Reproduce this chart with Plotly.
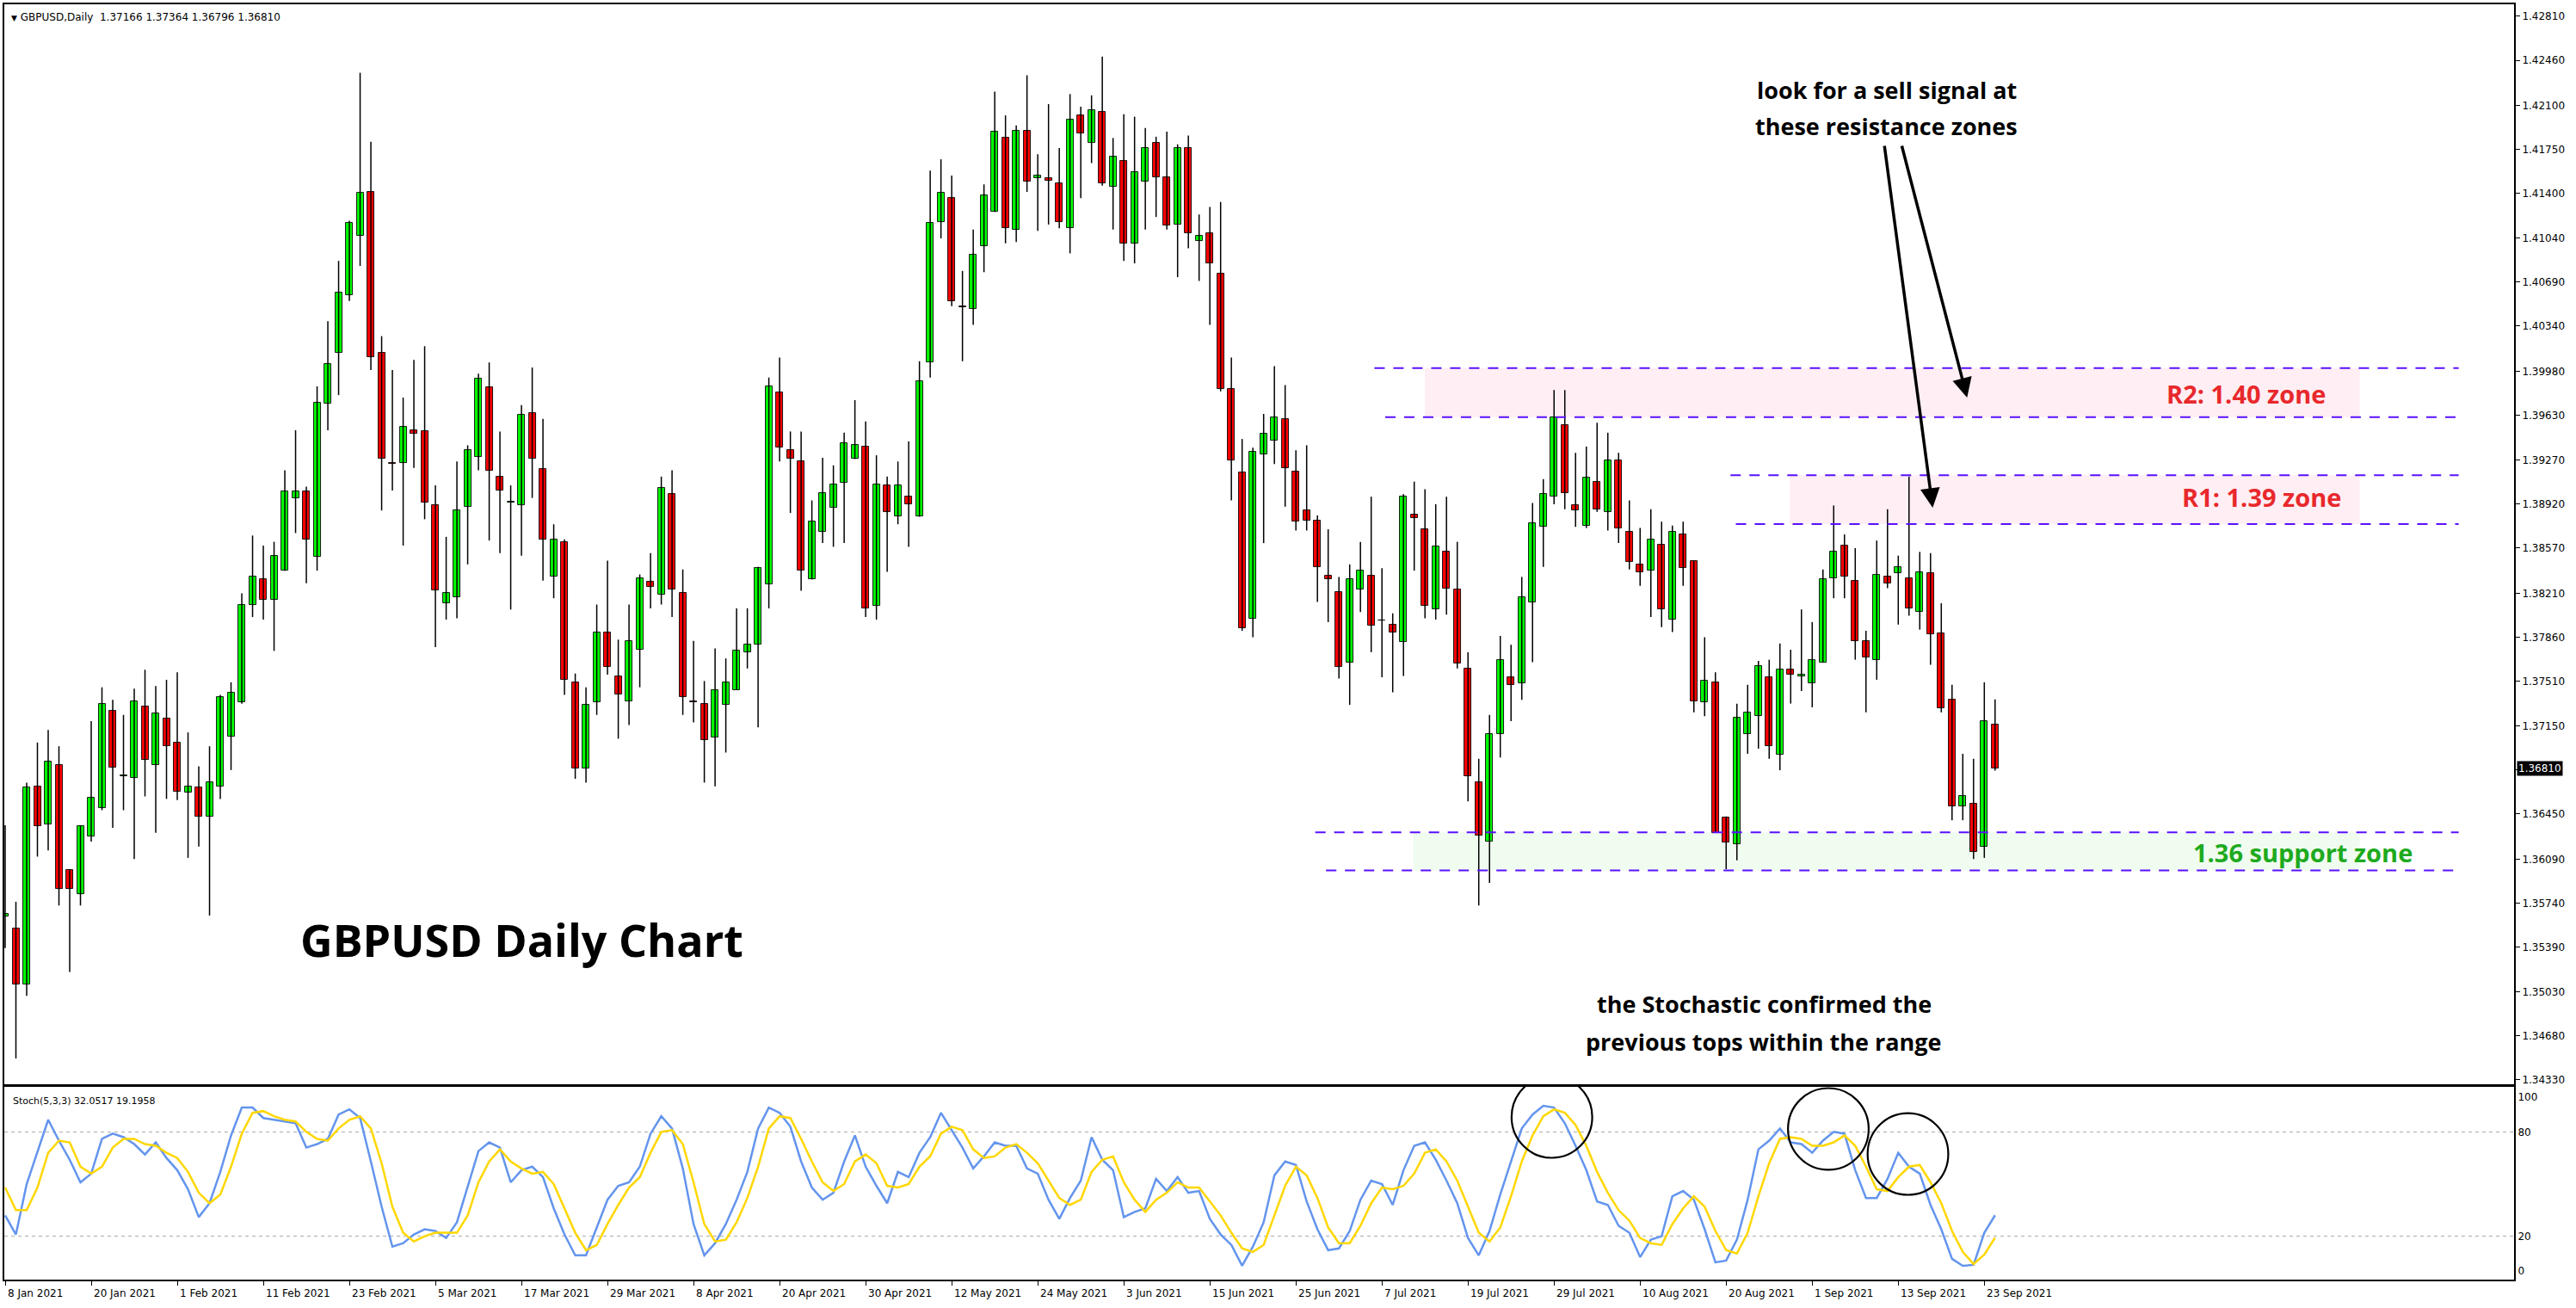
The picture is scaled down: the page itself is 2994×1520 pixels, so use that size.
import plotly.graph_objects as go

# ---------------- data ----------------
date_labels = ["8 Jan 2021", "20 Jan 2021", "1 Feb 2021", "11 Feb 2021", "23 Feb 2021",
               "5 Mar 2021", "17 Mar 2021", "29 Mar 2021", "8 Apr 2021", "20 Apr 2021",
               "30 Apr 2021", "12 May 2021", "24 May 2021", "3 Jun 2021", "15 Jun 2021",
               "25 Jun 2021", "7 Jul 2021", "19 Jul 2021", "29 Jul 2021", "10 Aug 2021",
               "20 Aug 2021", "1 Sep 2021", "13 Sep 2021", "23 Sep 2021"]
date_label_bars = [0, 8, 16, 24, 32, 40, 48, 56, 64, 72, 80, 88, 96, 104, 112, 120,
                   128, 136, 144, 152, 160, 168, 176, 184]

price_labels = ["1.42810", "1.42460", "1.42100", "1.41750", "1.41400", "1.41040", "1.40690",
                "1.40340", "1.39980", "1.39630", "1.39270", "1.38920", "1.38570", "1.38210",
                "1.37860", "1.37510", "1.37150", "1.36800", "1.36450", "1.36090", "1.35740",
                "1.35390", "1.35030", "1.34680", "1.34330"]
stoch_labels = ["0", "20", "80", "100"]

opens = [1.3563, 1.3554, 1.3509, 1.3667, 1.3637, 1.3684, 1.3600, 1.3581, 1.3627, 1.3650,
         1.3727, 1.3675, 1.3674, 1.3731, 1.3684, 1.3721, 1.3702, 1.3662, 1.3666, 1.3643,
         1.3667, 1.3707, 1.3734, 1.3812, 1.3832, 1.3816, 1.3839, 1.3897, 1.3902, 1.3850,
         1.3972, 1.4013, 1.4059, 1.4106, 1.4141, 1.4013, 1.3925, 1.3925, 1.3951, 1.3950,
         1.3891, 1.3813, 1.3818, 1.3890, 1.3930, 1.3985, 1.3914, 1.3893, 1.3891, 1.3965,
         1.3920, 1.3834, 1.3862, 1.3750, 1.3681, 1.3734, 1.3790, 1.3755, 1.3735, 1.3776,
         1.3830, 1.3820, 1.3900, 1.3821, 1.3735, 1.3733, 1.3706, 1.3732, 1.3744, 1.3774,
         1.3780, 1.3828, 1.3981, 1.3935, 1.3926, 1.3832, 1.3870, 1.3889, 1.3909, 1.3928,
         1.3938, 1.3811, 1.3907, 1.3882, 1.3898, 1.3882, 1.4005, 1.4117, 1.4136, 1.4050,
         1.4048, 1.4098, 1.4125, 1.4184, 1.4111, 1.4190, 1.4152, 1.4152, 1.4148, 1.4112,
         1.4202, 1.4180, 1.4205, 1.4145, 1.4166, 1.4100, 1.4149, 1.4180, 1.4153, 1.4115,
         1.4176, 1.4102, 1.4108, 1.4076, 1.3984, 1.3917, 1.3801, 1.3932, 1.3943, 1.3960,
         1.3918, 1.3887, 1.3879, 1.3835, 1.3822, 1.3766, 1.3824, 1.3835, 1.3799, 1.3796,
         1.3782, 1.3884, 1.3872, 1.3808, 1.3854, 1.3824, 1.3761, 1.3670, 1.3623, 1.3709,
         1.3754, 1.3749, 1.3814, 1.3874, 1.3898, 1.3955, 1.3891, 1.3875, 1.3910, 1.3886,
         1.3927, 1.3870, 1.3844, 1.3839, 1.3860, 1.3800, 1.3868, 1.3847, 1.3734, 1.3750,
         1.3642, 1.3621, 1.3709, 1.3723, 1.3754, 1.3692, 1.3760, 1.3755, 1.3749, 1.3766,
         1.3833, 1.3859, 1.3831, 1.3783, 1.3768, 1.3834, 1.3837, 1.3833, 1.3806, 1.3837,
         1.3789, 1.3736, 1.3651, 1.3653, 1.3619, 1.37166]

highs = [1.3636, 1.3575, 1.3670, 1.3702, 1.3712, 1.3699, 1.3601, 1.3636, 1.3719, 1.3746,
         1.3736, 1.3724, 1.3745, 1.3760, 1.3747, 1.3752, 1.3758, 1.3710, 1.3683, 1.3699,
         1.3740, 1.3750, 1.3821, 1.3867, 1.3859, 1.3862, 1.3919, 1.3951, 1.3906, 1.3986,
         1.4038, 1.4086, 1.4118, 1.4236, 1.4181, 1.4026, 1.3999, 1.3977, 1.4007, 1.4018,
         1.3907, 1.3866, 1.3926, 1.3939, 1.3996, 1.4005, 1.3950, 1.3907, 1.3971, 1.4001,
         1.3960, 1.3876, 1.3864, 1.3757, 1.3746, 1.3812, 1.3847, 1.3784, 1.3812, 1.3836,
         1.3853, 1.3914, 1.3919, 1.3840, 1.3783, 1.3751, 1.3777, 1.3769, 1.3809, 1.3809,
         1.3842, 1.3993, 1.4009, 1.3950, 1.3950, 1.3895, 1.3929, 1.3923, 1.3949, 1.3975,
         1.3958, 1.3931, 1.3914, 1.3926, 1.3942, 1.4006, 1.4158, 1.4167, 1.4154, 1.4078,
         1.4111, 1.4147, 1.4221, 1.4202, 1.4194, 1.4234, 1.4171, 1.4211, 1.4176, 1.4219,
         1.4209, 1.4218, 1.4249, 1.4184, 1.4203, 1.4201, 1.4192, 1.4185, 1.4189, 1.4179,
         1.4186, 1.4123, 1.4129, 1.4133, 1.4009, 1.3944, 1.3937, 1.3964, 1.4002, 1.3987,
         1.3935, 1.3939, 1.3883, 1.3872, 1.3834, 1.3844, 1.3862, 1.3898, 1.3841, 1.3805,
         1.3900, 1.3910, 1.3904, 1.3892, 1.3898, 1.3862, 1.3774, 1.3689, 1.3724, 1.3787,
         1.3780, 1.3834, 1.3893, 1.3912, 1.3983, 1.3983, 1.3933, 1.3938, 1.3957, 1.3949,
         1.3933, 1.3895, 1.3873, 1.3888, 1.3878, 1.3875, 1.3878, 1.3847, 1.3786, 1.3758,
         1.3643, 1.3733, 1.3748, 1.3767, 1.3768, 1.3781, 1.3776, 1.3808, 1.3798, 1.3840,
         1.3891, 1.3868, 1.3857, 1.3791, 1.3863, 1.3888, 1.3851, 1.3914, 1.3854, 1.3853,
         1.3813, 1.3748, 1.3693, 1.3689, 1.3750, 1.37364]

lows = [1.3538, 1.3450, 1.3500, 1.3611, 1.3616, 1.3572, 1.3519, 1.3572, 1.3623, 1.3648,
        1.3634, 1.3648, 1.3609, 1.3659, 1.3630, 1.3657, 1.3656, 1.3610, 1.3619, 1.3564,
        1.3657, 1.3680, 1.3733, 1.3802, 1.3800, 1.3775, 1.3839, 1.3869, 1.3829, 1.3839,
        1.3951, 1.3979, 1.4054, 1.4082, 1.3999, 1.3887, 1.3903, 1.3859, 1.3921, 1.3880,
        1.3778, 1.3800, 1.3801, 1.3844, 1.3919, 1.3863, 1.3853, 1.3808, 1.3851, 1.3897,
        1.3831, 1.3817, 1.3740, 1.3673, 1.3670, 1.3724, 1.3756, 1.3705, 1.3716, 1.3746,
        1.3809, 1.3812, 1.3802, 1.3724, 1.3718, 1.3670, 1.3667, 1.3694, 1.3744, 1.3761,
        1.3714, 1.3809, 1.3926, 1.3885, 1.3823, 1.3832, 1.3861, 1.3858, 1.3861, 1.3928,
        1.3802, 1.3800, 1.3838, 1.3876, 1.3858, 1.3882, 1.3993, 1.4104, 1.4050, 1.4006,
        1.4035, 1.4077, 1.4125, 1.4100, 1.4101, 1.4141, 1.4110, 1.4115, 1.4112, 1.4092,
        1.4136, 1.4164, 1.4146, 1.4111, 1.4086, 1.4084, 1.4111, 1.4121, 1.4111, 1.4073,
        1.4096, 1.4070, 1.4035, 1.3982, 1.3895, 1.3791, 1.3786, 1.3861, 1.3924, 1.3890,
        1.3871, 1.3871, 1.3814, 1.3798, 1.3753, 1.3732, 1.3806, 1.3774, 1.3754, 1.3742,
        1.3755, 1.3839, 1.3801, 1.3800, 1.3804, 1.3761, 1.3655, 1.3572, 1.3590, 1.3690,
        1.3719, 1.3736, 1.3766, 1.3842, 1.3892, 1.3888, 1.3874, 1.3873, 1.3886, 1.3871,
        1.3861, 1.3840, 1.3827, 1.3802, 1.3794, 1.3790, 1.3827, 1.3726, 1.3723, 1.3630,
        1.3601, 1.3608, 1.3693, 1.3697, 1.3689, 1.3680, 1.3733, 1.3743, 1.3730, 1.3766,
        1.3817, 1.3817, 1.3768, 1.3726, 1.3752, 1.3825, 1.3796, 1.3803, 1.3792, 1.3764,
        1.3726, 1.3640, 1.3640, 1.3609, 1.3610, 1.36796]

closes = [1.3565, 1.3509, 1.3666, 1.3635, 1.3687, 1.3585, 1.3585, 1.3635, 1.3658, 1.3733,
          1.3682, 1.3676, 1.3735, 1.3688, 1.3725, 1.3699, 1.3663, 1.3667, 1.3643, 1.3670,
          1.3738, 1.3742, 1.3812, 1.3834, 1.3816, 1.3851, 1.3902, 1.3902, 1.3864, 1.3973,
          1.4004, 1.4061, 1.4116, 1.4140, 1.4009, 1.3928, 1.3924, 1.3954, 1.3948, 1.3893,
          1.3823, 1.3821, 1.3887, 1.3935, 1.3992, 1.3919, 1.3903, 1.3894, 1.3963, 1.3928,
          1.3864, 1.3864, 1.3752, 1.3681, 1.3732, 1.3790, 1.3762, 1.3740, 1.3783, 1.3833,
          1.3826, 1.3905, 1.3824, 1.3738, 1.3734, 1.3704, 1.3744, 1.3750, 1.3775, 1.3780,
          1.3841, 1.3986, 1.3937, 1.3928, 1.3839, 1.3878, 1.3901, 1.3908, 1.3941, 1.3939,
          1.3809, 1.3908, 1.3886, 1.3907, 1.3892, 1.3990, 1.4116, 1.4140, 1.4054, 1.4049,
          1.4091, 1.4138, 1.4189, 1.4112, 1.4190, 1.4149, 1.4154, 1.4150, 1.4117, 1.4199,
          1.4188, 1.4206, 1.4148, 1.4169, 1.4100, 1.4157, 1.4176, 1.4153, 1.4114, 1.4176,
          1.4108, 1.4106, 1.4084, 1.3984, 1.3927, 1.3793, 1.3934, 1.3948, 1.3961, 1.3921,
          1.3878, 1.3879, 1.3842, 1.3832, 1.3762, 1.3832, 1.3839, 1.3795, 1.3799, 1.3790,
          1.3898, 1.3881, 1.3811, 1.3858, 1.3825, 1.3765, 1.3675, 1.3628, 1.3709, 1.3768,
          1.3748, 1.3818, 1.3877, 1.3900, 1.3961, 1.3901, 1.3887, 1.3913, 1.3888, 1.3927,
          1.3873, 1.3846, 1.3838, 1.3864, 1.3808, 1.3870, 1.3841, 1.3735, 1.3751, 1.3630,
          1.3622, 1.3722, 1.3726, 1.3763, 1.3699, 1.3760, 1.3756, 1.3756, 1.3768, 1.3832,
          1.3854, 1.3834, 1.3783, 1.3770, 1.3836, 1.3829, 1.3842, 1.3809, 1.3838, 1.3788,
          1.3729, 1.3651, 1.3659, 1.3615, 1.3719, 1.36810]

stoch_k = [32, 21, 50, 68, 87, 75, 64, 51, 56, 76,
           79, 77, 73, 67, 74, 65, 58, 47, 31, 39,
           57, 78, 94, 94, 88, 87, 86, 85, 71, 73,
           76, 90, 93, 88, 63, 37, 14, 16, 21, 24,
           23, 19, 28, 48, 69, 74, 71, 51, 58, 60,
           54, 36, 21, 9, 9, 25, 41, 49, 51, 60,
           79, 89, 82, 59, 27, 9, 16, 27, 41, 57,
           82, 94, 91, 83, 63, 48, 41, 45, 63, 78,
           60, 49, 39, 57, 54, 68, 77, 91, 81, 71,
           59, 66, 74, 72, 72, 59, 56, 41, 30, 42,
           52, 77, 64, 58, 31, 34, 36, 53, 46, 54,
           45, 46, 30, 21, 15, 3, 14, 28, 55, 63,
           61, 40, 24, 12, 13, 23, 41, 52, 50, 38,
           58, 72, 74, 64, 52, 39, 19, 9, 23, 44,
           63, 82, 90, 95, 94, 85, 72, 58, 40, 38,
           26, 22, 8, 18, 20, 43, 46, 41, 24, 5,
           6, 18, 41, 70, 75, 82, 74, 73, 68, 75,
           80, 79, 58, 42, 42, 53, 68, 60, 56, 38,
           24, 7, 3, 3.5, 22, 32.0517]

stoch_d = [48, 35, 35, 48, 68, 75, 74, 60, 56, 60,
           71, 76, 76, 73, 72, 68, 65, 57, 45, 39,
           44, 60, 79, 91, 92, 89, 87, 86, 80, 76,
           75, 82, 87, 89, 82, 62, 37, 22, 17, 20,
           22, 22, 22, 32, 51, 63, 70, 63, 59, 56,
           57, 50, 36, 22, 12, 15, 27, 38, 48, 54,
           68, 80, 81, 73, 51, 27, 17, 18, 28, 42,
           60, 82, 89, 88, 76, 63, 51, 46, 50, 63,
           67, 62, 49, 48, 50, 60, 66, 79, 83, 81,
           70, 65, 66, 71, 73, 68, 62, 52, 42, 38,
           41, 57, 64, 66, 51, 41, 34, 41, 45, 51,
           48, 48, 40, 32, 22, 13, 11, 15, 32, 49,
           60, 55, 42, 25, 16, 16, 26, 39, 48, 47,
           49, 56, 68, 70, 63, 52, 37, 22, 17, 25,
           43, 63, 78, 89, 93, 91, 84, 72, 57, 45,
           35, 29, 19, 16, 15, 27, 36, 43, 37, 23,
           12, 10, 22, 43, 62, 76, 77, 76, 72, 72,
           74, 78, 72, 60, 47, 46, 54, 60, 61, 51,
           39, 23, 11, 4, 9.5, 19.1958]

# ---------------- styling ----------------
GREEN = "#00FF00"
RED = "#FF0000"
ZONE_LINE = "#5A10FF"
PINK = "rgb(255,238,243)"
LIGHTGREEN = "rgb(240,252,240)"
TXT_FONT = "Open Sans"
AX_FONT = "DejaVu Sans"

n = len(closes)
bars = list(range(n))

wick_x, wick_y = [], []
for i in bars:
    wick_x += [i, i, None]
    wick_y += [lows[i], highs[i], None]

body_base = [min(o, c) for o, c in zip(opens, closes)]
body_len = [max(abs(c - o), 0.00002) for o, c in zip(opens, closes)]
body_col = [GREEN if c >= o else RED for o, c in zip(opens, closes)]

fig = go.Figure()

fig.add_trace(go.Scatter(x=wick_x, y=wick_y, mode="lines",
                         line=dict(color="black", width=1.5),
                         xaxis="x2", yaxis="y", hoverinfo="skip", showlegend=False))
fig.add_trace(go.Bar(x=bars, y=body_len, base=body_base, width=0.64,
                     marker=dict(color=body_col, line=dict(color="black", width=0.9)),
                     xaxis="x2", yaxis="y", hoverinfo="skip", showlegend=False))

fig.add_trace(go.Scatter(x=bars, y=stoch_k, mode="lines",
                         line=dict(color="#6495ED", width=2.5),
                         xaxis="x", yaxis="y2", hoverinfo="skip", showlegend=False))
fig.add_trace(go.Scatter(x=bars, y=stoch_d, mode="lines",
                         line=dict(color="#FFD700", width=2.5),
                         xaxis="x", yaxis="y2", hoverinfo="skip", showlegend=False))

X_RANGE = [-0.08, 233.25]
axis_common = dict(showgrid=False, zeroline=False, showline=True, mirror=True,
                   linecolor="black", linewidth=2)

fig.update_layout(
    width=2994, height=1520,
    margin=dict(l=3, r=72, t=5, b=33),
    paper_bgcolor="white", plot_bgcolor="white",
    showlegend=False, bargap=0,
    xaxis=dict(domain=[0, 1], range=X_RANGE, anchor="y2",
               tickvals=date_label_bars, ticktext=[""] * len(date_label_bars),
               ticks="outside", ticklen=5, tickcolor="black", tickwidth=1,
               **axis_common),
    xaxis2=dict(domain=[0, 1], range=X_RANGE, matches="x", anchor="y",
                showticklabels=False, ticks="", **axis_common),
    yaxis=dict(domain=[0.1532, 1], range=[1.34295, 1.42906], side="right", anchor="x2",
               tickvals=[float(s) for s in price_labels],
               ticktext=[("" if s == "1.36800" else s) for s in price_labels],
               ticks="outside", ticklen=5, tickcolor="black", tickwidth=1,
               tickfont=dict(family=AX_FONT, size=12, color="black"),
               **axis_common),
    yaxis2=dict(domain=[0, 0.1511], range=[-4.95, 105.9], side="right", anchor="x",
                tickvals=[float(s) for s in stoch_labels], ticktext=stoch_labels,
                ticks="", tickfont=dict(family=AX_FONT, size=12, color="black"),
                **axis_common),
)

shapes = []
# stochastic level lines
for lvl in (20, 80):
    shapes.append(dict(type="line", xref="x domain", x0=0, x1=1, yref="y2", y0=lvl, y1=lvl,
                       line=dict(color="#C0C0C0", width=1.5, dash="4px,4px"), layer="below"))

# zones (rectangles)
zones = [  # x0, x1, y0, y1, colour
    (132.0, 218.9, 1.39614, 1.40006, PINK),
    (165.9, 218.9, 1.38762, 1.39151, PINK),
    (130.9, 218.9, 1.36000, 1.36303, LIGHTGREEN),
]
for x0, x1, y0, y1, col in zones:
    shapes.append(dict(type="rect", xref="x2", yref="y", x0=x0, x1=x1, y0=y0, y1=y1,
                       fillcolor=col, line=dict(width=0), layer="below"))

zone_lines = [  # x start, x end, price
    (127.3, 228.1, 1.40006), (128.3, 228.1, 1.39614),
    (160.4, 228.1, 1.39151), (160.9, 228.1, 1.38762),
    (121.8, 228.1, 1.36303), (122.8, 228.1, 1.36000),
]
for x0, x1, p in zone_lines:
    shapes.append(dict(type="line", xref="x2", yref="y", x0=x0, x1=x1, y0=p, y1=p,
                       line=dict(color=ZONE_LINE, width=2, dash="12px,10px")))

# circles on stochastic
circles = [(143.8, 88.6), (169.5, 81.7), (176.9, 67.3)]
for cx, cy in circles:
    shapes.append(dict(type="circle", xref="x", yref="y2",
                       x0=cx - 3.75, x1=cx + 3.75, y0=cy - 23.5, y1=cy + 23.5,
                       line=dict(color="black", width=2.2)))
fig.update_layout(shapes=shapes)

ann = []
# date labels (left aligned at tick)
for b, t in zip(date_label_bars, date_labels):
    ann.append(dict(x=b, y=0, xref="x", yref="paper", text=t, showarrow=False,
                    xanchor="left", yanchor="top", yshift=-7, xshift=1,
                    font=dict(family=AX_FONT, size=12, color="black")))

# header
ann.append(dict(x=0, y=1, xref="paper", yref="paper", xanchor="left", yanchor="top",
                xshift=6, yshift=-6, showarrow=False,
                text="<span style='font-size:9px'>▼</span> GBPUSD,Daily  1.37166 1.37364 1.36796 1.36810",
                font=dict(family=AX_FONT, size=12, color="black")))
# stoch label
ann.append(dict(x=0, y=98, xref="paper", yref="y2", xanchor="left", yanchor="middle",
                xshift=8, showarrow=False, text="Stoch(5,3,3) 32.0517 19.1958",
                font=dict(family=AX_FONT, size=11, color="black")))
# current price box
ann.append(dict(x=1, y=closes[-1], xref="paper", yref="y", xanchor="left", yanchor="middle",
                xshift=3, showarrow=False, text=f"{closes[-1]:.5f}", bgcolor="black",
                borderpad=1, font=dict(family=AX_FONT, size=12, color="white")))

# title
ann.append(dict(x=48.0, y=1.35448, xref="x2", yref="y", showarrow=False,
                text="<b>GBPUSD Daily Chart</b>",
                font=dict(family=TXT_FONT, size=52, color="black")))

# zone labels
ann.append(dict(x=208.3, y=1.39798, xref="x2", yref="y", showarrow=False,
                text="<b>R2: 1.40 zone</b>", font=dict(family=TXT_FONT, size=29, color="#E8282C")))
ann.append(dict(x=209.8, y=1.38975, xref="x2", yref="y", showarrow=False,
                text="<b>R1: 1.39 zone</b>", font=dict(family=TXT_FONT, size=29, color="#E8282C")))
ann.append(dict(x=213.6, y=1.36141, xref="x2", yref="y", showarrow=False,
                text="<b>1.36 support zone</b>", font=dict(family=TXT_FONT, size=29, color="#1EAA1E")))

# commentary
ann.append(dict(x=174.9, y=1.42220, xref="x2", yref="y", showarrow=False,
                text="<b>look for a sell signal at</b>", font=dict(family=TXT_FONT, size=27, color="black")))
ann.append(dict(x=174.9, y=1.41932, xref="x2", yref="y", showarrow=False,
                text="<b>these resistance zones</b>", font=dict(family=TXT_FONT, size=27, color="black")))
ann.append(dict(x=163.5, y=1.34934, xref="x2", yref="y", showarrow=False,
                text="<b>the Stochastic confirmed the</b>", font=dict(family=TXT_FONT, size=27, color="black")))
ann.append(dict(x=163.5, y=1.34632, xref="x2", yref="y", showarrow=False,
                text="<b>previous tops within the range</b>", font=dict(family=TXT_FONT, size=27, color="black")))

# arrows
for hx, hy, tx, ty in [(179.2, 1.38892, 174.7, 1.41788), (182.4, 1.39771, 176.3, 1.41788)]:
    ann.append(dict(x=hx, y=hy, ax=tx, ay=ty, xref="x2", yref="y", axref="x2", ayref="y",
                    text="", showarrow=True, arrowhead=2, arrowsize=1.3, arrowwidth=3.5,
                    arrowcolor="black"))

fig.update_layout(annotations=ann)

fig.write_html("out.html")
